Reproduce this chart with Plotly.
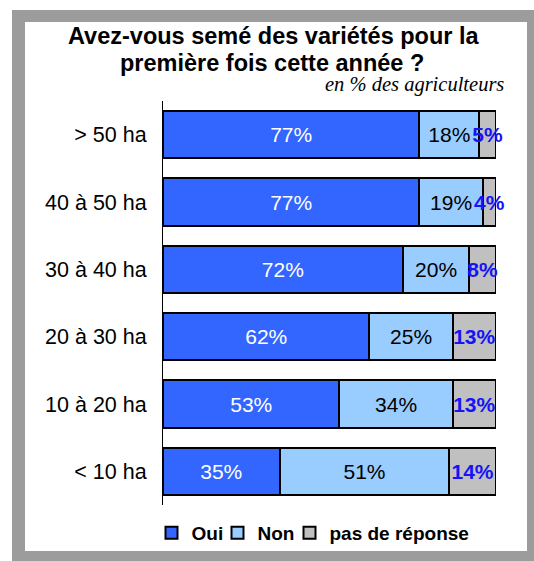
import plotly.graph_objects as go

categories = ["> 50 ha", "40 à 50 ha", "30 à 40 ha", "20 à 30 ha", "10 à 20 ha", "< 10 ha"]
oui = [77, 77, 72, 62, 53, 35]
non = [18, 19, 20, 25, 34, 51]
nr = [5, 4, 8, 13, 13, 14]
series_names = ["Oui", "Non", "pas de réponse"]

W, H = 534, 561
L, R, T, B = 163, 38, 101, 56
PW, PH = W - L - R, H - T - B


def px(x):
    return (x - L) / PW


def py(y):
    return (H - B - y) / PH


FONT = "Liberation Sans, Arial, sans-serif"
fig = go.Figure()

specs = [
    (oui, series_names[0], "#3366FF", dict(color="white", size=21, family=FONT), "legend"),
    (non, series_names[1], "#99CCFF", dict(color="black", size=21, family=FONT), "legend2"),
    (nr, series_names[2], "#C0C0C0", dict(color="#1414F5", size=21, family=FONT, weight="bold"), "legend3"),
]
for vals, name, col, tf, lg in specs:
    fig.add_trace(go.Bar(
        y=categories, x=vals, name=name, orientation="h",
        marker=dict(color=col, line=dict(color="black", width=2)),
        text=[f"{v}%" for v in vals], textposition="inside",
        insidetextanchor="middle", textangle=0, constraintext="none",
        textfont=tf, cliponaxis=False, hoverinfo="skip", legend=lg,
    ))

legend_font = dict(size=19, family=FONT, weight="bold", color="black")


def leg(xpix):
    return dict(orientation="h", x=px(xpix), y=py(533), xanchor="left", yanchor="middle",
                font=legend_font, bgcolor="rgba(0,0,0,0)")


fig.update_layout(
    width=W, height=H,
    margin=dict(l=L, r=R, t=T, b=B, pad=0, autoexpand=False),
    barmode="stack", bargap=0.30,
    paper_bgcolor="white", plot_bgcolor="white",
    font=dict(family=FONT, color="black"),
    showlegend=True,
    legend=leg(151.5), legend2=leg(217.5), legend3=leg(289.5),
    xaxis=dict(range=[0, 100], visible=False, fixedrange=True),
    yaxis=dict(categoryorder="array", categoryarray=categories, autorange="reversed",
               showline=True, linecolor="black", linewidth=1, ticks="",
               showgrid=False, tickfont=dict(size=21.5, family=FONT, color="black"),
               ticklabelstandoff=11, automargin=False),
    shapes=[
        dict(type="rect", xref="paper", yref="paper", x0=px(12), x1=px(545), y0=py(10), y1=py(575),
             fillcolor="#9C9C9C", line=dict(width=0), layer="below"),
        dict(type="rect", xref="paper", yref="paper", x0=px(25), x1=px(527), y0=py(22), y1=py(551),
             fillcolor="white", line=dict(width=0), layer="below"),
    ],
    annotations=[
        dict(text="<b>Avez-vous semé des variétés pour la</b>", xref="paper", yref="paper",
             x=px(273), y=py(36.5), xanchor="center", yanchor="middle", showarrow=False,
             font=dict(size=23.5, family=FONT, color="black")),
        dict(text="<b>première fois cette année ?</b>", xref="paper", yref="paper",
             x=px(271.5), y=py(63), xanchor="center", yanchor="middle", showarrow=False,
             font=dict(size=23.5, family=FONT, color="black")),
        dict(text="<i>en % des agriculteurs</i>", xref="paper", yref="paper",
             x=px(506), y=py(85), xanchor="right", yanchor="middle", showarrow=False,
             font=dict(size=20.5, family="Liberation Serif, Times New Roman, serif", color="black")),
    ],
)

fig.write_html("out.html", config={"displayModeBar": False},
               post_script="document.body.style.margin='0px';")
